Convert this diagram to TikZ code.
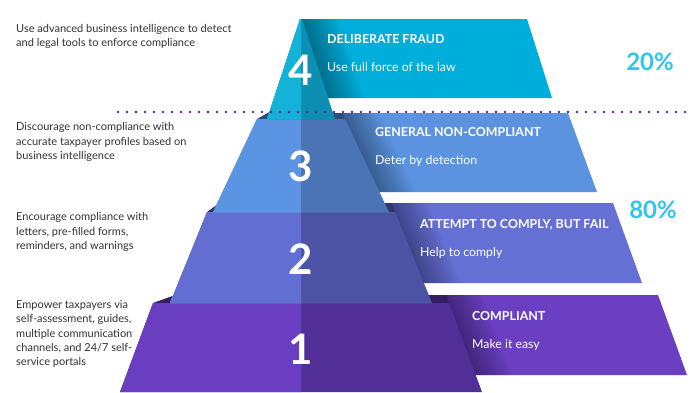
\documentclass[tikz,border=0pt]{standalone}
\usepackage{fontspec}
\setmainfont{Lato}
\definecolor{cFourL}{HTML}{14B1D9}
\definecolor{cFourR}{HTML}{0C8FB3}
\definecolor{cFourB}{HTML}{00AEDB}
\definecolor{cThreeL}{HTML}{5B94E2}
\definecolor{cThreeR}{HTML}{4A74B5}
\definecolor{cThreeB}{HTML}{5B93E0}
\definecolor{cTwoL}{HTML}{636ED3}
\definecolor{cTwoR}{HTML}{4C53A4}
\definecolor{cTwoB}{HTML}{6570D4}
\definecolor{cOneL}{HTML}{6A3EC0}
\definecolor{cOneR}{HTML}{522E97}
\definecolor{cOneB}{HTML}{6A3FC1}
\definecolor{dotcol}{HTML}{6A1B9A}
\definecolor{pctcol}{HTML}{2EC5EF}
\definecolor{txtcol}{HTML}{333333}
\begin{document}
\begin{tikzpicture}[x=1pt,y=-1pt,
  lefttext/.style={anchor=north west, inner sep=0pt, align=left, text=txtcol,
    font=\fontsize{11}{14.4}\selectfont},
  rtitle/.style={anchor=base west, inner sep=0pt, text=white,
    font=\fontsize{12.4}{14}\selectfont\bfseries},
  rsub/.style={anchor=base west, inner sep=0pt, text=white,
    font=\fontsize{12.3}{14}\selectfont},
  tiernum/.style={inner sep=0pt, text=white, font=\fontsize{42}{42}\selectfont\bfseries},
  pcttext/.style={inner sep=0pt, text=pctcol, font=\fontsize{24}{24}\selectfont\bfseries},
  shadestrip/.style={fill=black, fill opacity=0.03},
  dotline/.style={draw=dotcol, line width=2.8pt, line cap=round, dash pattern=on 0pt off 9pt},
]
\useasboundingbox (0,0) rectangle (693,392);
\fill[white] (0,0) rectangle (693,392);

% ---- ribbons ----
\fill[cFourB] (301,19) -- (527,19) -- (552,98) -- (301,98) -- cycle;
\fill[cThreeB] (301,113) -- (568,113) -- (597,192) -- (301,192) -- cycle;
\fill[cTwoB] (301,203) -- (613,203) -- (642,283) -- (301,283) -- cycle;
\fill[cOneB] (301,295) -- (658,295) -- (687,375) -- (301,375) -- cycle;

% ---- shadow gradients on ribbons ----
\begin{scope}
\clip (301,19) -- (527,19) -- (552,98) -- (301,98) -- cycle;
\foreach \i in {1,...,12}{
  \fill[shadestrip] (280,19) -- ({302+3*\i},19) -- ({328+3*\i},98) -- (300,98) -- cycle;}
\end{scope}
\begin{scope}
\clip (301,113) -- (568,113) -- (597,192) -- (301,192) -- cycle;
\foreach \i in {1,...,12}{
  \fill[shadestrip] (320,113) -- ({342.2+3*\i},113) -- ({379.3+3*\i},192) -- (350,192) -- cycle;}
\end{scope}
\begin{scope}
\clip (301,203) -- (613,203) -- (642,283) -- (301,283) -- cycle;
\foreach \i in {1,...,12}{
  \fill[shadestrip] (370,203) -- ({391.3+3*\i},203) -- ({424.1+3*\i},283) -- (400,283) -- cycle;}
\end{scope}
\begin{scope}
\clip (301,295) -- (658,295) -- (687,375) -- (301,375) -- cycle;
\foreach \i in {1,...,12}{
  \fill[shadestrip] (420,295) -- ({446+3*\i},295) -- ({475.6+3*\i},375) -- (450,375) -- cycle;}
\end{scope}

% ---- folds (right) ----
\fill[cThreeR!65!black] (333,113) -- (342.2,113) -- (345,119) -- (335,119) -- cycle;
\fill[cTwoR!65!black] (384.5,203) -- (391.3,203) -- (395,212) -- (388.7,212) -- cycle;
\fill[cOneR!65!black] (429,295) -- (446,295) -- (449,303) -- (432.3,303) -- cycle;

% ---- flaps (left) ----
\fill[cThreeR!65!black] (257,119) -- (269.3,112) -- (267,119) -- cycle;
\fill[cTwoR!65!black] (207,212) -- (216.6,205) -- (213.3,212) -- cycle;
\fill[cOneR!65!black] (153,303) -- (172.6,296) -- (169.7,303) -- cycle;

% ---- pyramid tiers ----
\fill[cOneR] (153,303) -- (449,303) -- (482,392) -- (120,392) -- cycle;
\fill[cOneL] (153,303) -- (301,303) -- (301,392) -- (120,392) -- cycle;
\fill[cTwoR] (207,212) -- (395,212) -- (432.2,303.6) -- (169.8,303.6) -- cycle;
\fill[cTwoL] (207,212) -- (301,212) -- (301,303.6) -- (169.8,303.6) -- cycle;
\fill[cThreeR] (257,119) -- (345,119) -- (389.2,212.6) -- (212.8,212.6) -- cycle;
\fill[cThreeL] (257,119) -- (301,119) -- (301,212.6) -- (212.8,212.6) -- cycle;
\fill[cFourR] (300,19) -- (302,19) -- (335.2,119.6) -- (266.8,119.6) -- cycle;
\fill[cFourL] (300,19) -- (301,19) -- (301,119.6) -- (266.8,119.6) -- cycle;

% ---- tier numbers ----
\node[tiernum] (n4) at (301,70) {4};
\node[tiernum] (n3) at (301,166) {3};
\node[tiernum] (n2) at (301,259) {2};
\node[tiernum] (n1) at (301,349) {1};

% ---- dotted divider ----
\coordinate (dl) at (118,112);
\coordinate (dr) at (690,112);
\draw[dotline] (dl) -- (dr);

% ---- ribbon texts ----
\node[rtitle] (r4t) at (327,43) {DELIBERATE FRAUD};
\node[rsub] (r4s) at (327,71) {Use full force of the law};
\node[rtitle] (r3t) at (375,136) {GENERAL NON-COMPLIANT};
\node[rsub] (r3s) at (375,164) {Deter by detection};
\node[rtitle] (r2t) at (420,228) {ATTEMPT TO COMPLY, BUT FAIL};
\node[rsub] (r2s) at (420,256) {Help to comply};
\node[rtitle] (r1t) at (472,320) {COMPLIANT};
\node[rsub] (r1s) at (472,348) {Make it easy};

% ---- percentages ----
\node[pcttext] (p20) at (650,62) {20\%};
\node[pcttext] (p80) at (653,210) {80\%};

% ---- left descriptions ----
\node[lefttext] (t4) at (16,24) {Use advanced business intelligence to detect\\and legal tools to enforce compliance};
\node[lefttext] (t3) at (16,122.5) {Discourage non-compliance with\\accurate taxpayer profiles based on\\business intelligence};
\node[lefttext] (t2) at (16,212.5) {Encourage compliance with\\letters, pre-filled forms,\\reminders, and warnings};
\node[lefttext] (t1) at (16,300) {Empower taxpayers via\\self-assessment, guides,\\multiple communication\\channels, and 24/7 self-\\service portals};
\end{tikzpicture}
\end{document}
